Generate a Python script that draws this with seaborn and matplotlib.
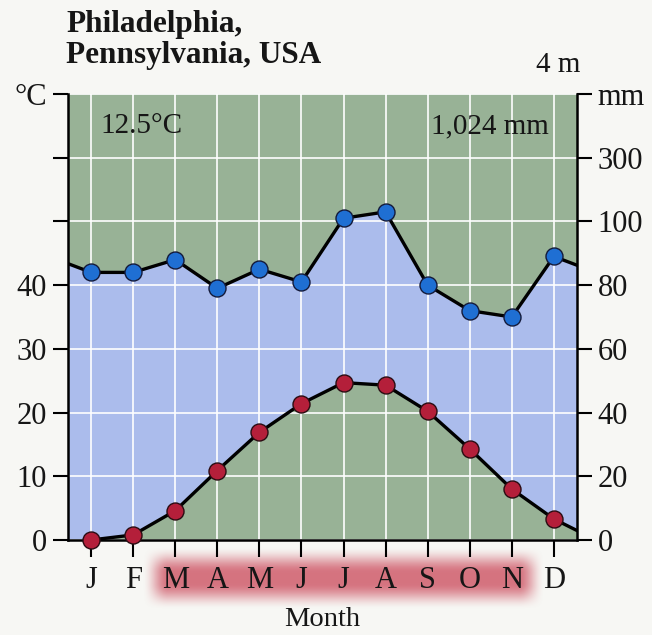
import numpy as np
import pandas as pd
import seaborn as sns
import matplotlib.pyplot as plt

# Climate diagram data
months = ['J', 'F', 'M', 'A', 'M', 'J', 'J', 'A', 'S', 'O', 'N', 'D']
temp_c = [0.0, 0.8, 4.6, 10.9, 16.9, 21.4, 24.7, 24.3, 20.2, 14.3, 8.0, 3.3]
precip_mm = [84, 84, 88, 79, 85, 81, 101, 103, 80, 72, 70, 89]
left_ticks = [0, 10, 20, 30, 40, 50, 60, 70]
left_labels = ['0', '10', '20', '30', '40', '', '', '°C']
right_labels = ['0', '20', '40', '60', '80', '100', '300', 'mm']
growing = (2, 10)  # M .. N highlighted
station = 'Philadelphia,\nPennsylvania, USA'
elevation = '4 m'
mean_temp = '12.5°C'
total_precip = '1,024 mm'

sns.set_theme(style='white')
plt.rcParams['font.family'] = ['Liberation Serif', 'DejaVu Serif']

GREEN = '#98b296'
BLUE = '#abbcec'
INK = '#161616'

idx = np.arange(12)
# precipitation wraps Dec->Jan at both edges; temperature starts at Jan
xw = np.arange(-1, 13)
temp_w = np.r_[temp_c[0], temp_c, temp_c[0]]
prec_w = np.r_[precip_mm[-1], precip_mm, precip_mm[0]] / 2.0  # 20 mm = 10 °C
df = pd.DataFrame({'x': xw, 'temp': temp_w, 'prec': prec_w})
pts = pd.DataFrame({'x': idx, 'temp': temp_c, 'prec': np.array(precip_mm) / 2.0})

xlim = (-0.55, 11.55)
ax_rect = [68 / 652, 1 - 540 / 635, 509 / 652, 446 / 635]

fig = plt.figure(figsize=(6.52, 6.35), dpi=100, facecolor='#f7f7f4')

# soft red glow behind the growing-season month letters
span = xlim[1] - xlim[0]
g0 = ax_rect[0] + (growing[0] - 0.78 - xlim[0]) / span * ax_rect[2]
g1 = ax_rect[0] + (growing[1] + 0.78 - xlim[0]) / span * ax_rect[2]
gax = fig.add_axes([g0, 1 - 610 / 635, g1 - g0, 64 / 635], zorder=0)
gx = np.linspace(0, 1, 500)
gy = np.linspace(0, 1, 80)
def ramp(t, w):
    r = np.clip(np.minimum(t, 1 - t) / w, 0, 1)
    return r * r * (3 - 2 * r)
alpha = np.outer(ramp(gy, 0.42), ramp(gx, 0.065))
glow = np.zeros((80, 500, 4))
glow[..., 0], glow[..., 1], glow[..., 2] = 0.81, 0.34, 0.40
glow[..., 3] = 0.82 * alpha
gax.imshow(glow, aspect='auto', extent=[0, 1, 0, 1])
gax.axis('off')

ax = fig.add_axes(ax_rect, zorder=1)
ax.set_facecolor(GREEN)
ax.fill_between(df['x'], df['temp'], df['prec'], where=df['prec'] >= df['temp'],
                interpolate=True, color=BLUE, lw=0, zorder=1)

sns.lineplot(data=df, x='x', y='prec', color='black', lw=2.4, ax=ax, zorder=3)
sns.lineplot(data=df[df['x'] >= 0], x='x', y='temp', color='black', lw=2.4, ax=ax, zorder=3)
sns.scatterplot(data=pts, x='x', y='prec', s=150, color='#1f6fd3',
                edgecolor='#141a3a', linewidth=1.0, ax=ax, zorder=4)
sns.scatterplot(data=pts, x='x', y='temp', s=150, color='#b41f3a',
                edgecolor='#2a0c12', linewidth=1.0, ax=ax, zorder=4, clip_on=False)

ax.set_xlim(xlim)
ax.set_ylim(0, 70)
ax.set_xticks(idx)
ax.set_xticklabels(months)
ax.set_yticks(left_ticks)
ax.set_yticklabels(left_labels)
ax.set_axisbelow('line')
ax.grid(True, color='white', lw=1.4, alpha=0.85)
for s in ['top', 'right']:
    ax.spines[s].set_visible(False)
for s in ['left', 'bottom']:
    ax.spines[s].set_color('black')
    ax.spines[s].set_linewidth(1.8)
ax.tick_params(axis='both', bottom=True, left=True, direction='out', length=11,
               width=1.5, color='black', labelsize=22, labelcolor=INK)
ax.tick_params(axis='x', length=12, pad=7, labelsize=22)
ax.tick_params(axis='y', pad=4)
ax.set_xlabel('Month', fontsize=20.5, color=INK, labelpad=8)
ax.set_ylabel('')

ax2 = ax.twinx()
ax2.set_ylim(0, 70)
ax2.set_yticks(left_ticks)
ax2.set_yticklabels(right_labels)
for s in ['top', 'left', 'bottom']:
    ax2.spines[s].set_visible(False)
ax2.spines['right'].set_color('black')
ax2.spines['right'].set_linewidth(1.8)
ax2.tick_params(axis='y', right=True, direction='out', length=11, width=1.5,
                color='black', labelsize=22, labelcolor=INK, pad=4)
ax2.grid(False)

ax.text(0.064, 0.928, mean_temp, transform=ax.transAxes, va='center', ha='left',
        fontsize=21, color=INK, zorder=5)
ax.text(0.945, 0.928, total_precip, transform=ax.transAxes, va='center', ha='right',
        fontsize=21, color=INK, zorder=5)

fig.text(66 / 652, 1 - 10 / 635, station, ha='left', va='top', fontsize=22.5,
         fontweight='bold', linespacing=1.08, color=INK)
fig.text(580 / 652, 1 - 72 / 635, elevation, ha='right', va='baseline',
         fontsize=21, color=INK)

fig.savefig('out.png', dpi=100, facecolor=fig.get_facecolor())
